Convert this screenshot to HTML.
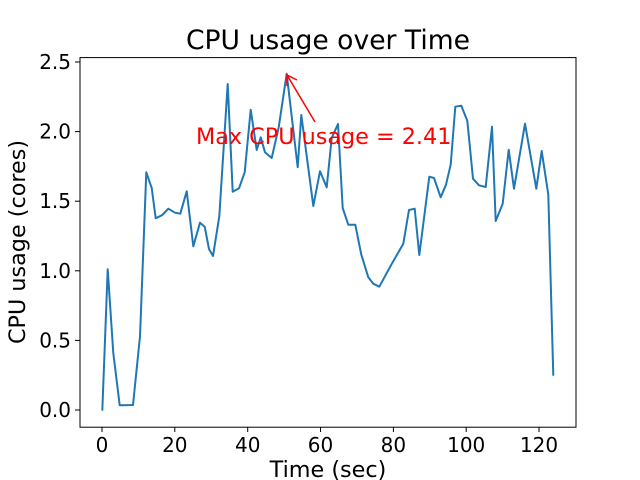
<!DOCTYPE html>
<html><head><meta charset="utf-8"><style>body{margin:0;background:#fff}svg{display:block}</style></head><body>
<svg width="640" height="480" viewBox="0 0 640 480" xmlns="http://www.w3.org/2000/svg" font-family="'DejaVu Sans','Liberation Sans',sans-serif">
<rect width="640" height="480" fill="#fff"/>
<polyline fill="none" stroke="#1f77b4" stroke-width="2" stroke-linejoin="round" points="102.3,410.7 107.7,269.3 113.3,353 119.7,405.3 133,405 140,336.3 146.3,172.3 151.7,188 155.7,218.3 162.3,215 168.3,208.7 175,212.7 180.3,213.7 186.7,191.3 193.3,246.3 200,222.7 204.7,226.7 209,249 213,256 219.3,216.3 227.7,84 232.7,191.7 239,188.3 244.7,172.3 250.7,109.7 256.7,150 260.7,137.3 265,152.3 271.7,158 278.7,127.3 286.7,73.7 297.7,167.3 301.3,115 313.3,206 320,171.3 326.7,187.3 331.7,138 338,124 342.7,208 348.3,224.7 355.3,224.7 361.3,254.7 368.3,277.3 373.3,283.7 379.3,286.7 391.3,264.7 403.3,243.7 409,210 414.7,208.7 419.3,255 429.3,176.7 434,178 440.7,197.3 446,184.7 450.7,164.7 455.3,106.7 461.3,105.7 467.3,120.7 473,178.7 479,185.3 485.7,187 492,126.7 495.7,221 502.7,203.7 508.7,149.7 514,188.7 525,123.7 536.3,188.7 541.7,151 548.3,194.7 553.3,375.7"/>
<g stroke="red" stroke-width="1.5" fill="none"><line x1="315" y1="122" x2="287" y2="75"/><polyline points="287,86 287,75 297,80"/></g>
<text x="196" y="144" font-size="22.3" fill="red">Max CPU usage = 2.41</text>
<rect x="80" y="57.6" width="496" height="369.6" fill="none" stroke="#000" stroke-width="1"/>
<g stroke="#000" stroke-width="1">
<line x1="102" y1="427.2" x2="102" y2="432"/><line x1="174.8" y1="427.2" x2="174.8" y2="432"/><line x1="247.7" y1="427.2" x2="247.7" y2="432"/><line x1="320.5" y1="427.2" x2="320.5" y2="432"/><line x1="393.4" y1="427.2" x2="393.4" y2="432"/><line x1="466.2" y1="427.2" x2="466.2" y2="432"/><line x1="539" y1="427.2" x2="539" y2="432"/>
<line x1="75" y1="410" x2="80" y2="410"/><line x1="75" y1="340.4" x2="80" y2="340.4"/><line x1="75" y1="270.8" x2="80" y2="270.8"/><line x1="75" y1="201.2" x2="80" y2="201.2"/><line x1="75" y1="131.6" x2="80" y2="131.6"/><line x1="75" y1="62" x2="80" y2="62"/>
</g>
<g font-size="20" text-anchor="middle" fill="#000">
<text x="102" y="452">0</text><text x="174.8" y="452">20</text><text x="247.7" y="452">40</text><text x="320.5" y="452">60</text><text x="393.4" y="452">80</text><text x="466.2" y="452">100</text><text x="539" y="452">120</text>
</g>
<g font-size="20" text-anchor="end" fill="#000">
<text x="71" y="417">0.0</text><text x="71" y="347.4">0.5</text><text x="71" y="277.8">1.0</text><text x="71" y="208.2">1.5</text><text x="71" y="138.6">2.0</text><text x="71" y="69">2.5</text>
</g>
<text x="328" y="477" font-size="22.3" text-anchor="middle">Time (sec)</text>
<text transform="translate(25,242) rotate(-90)" font-size="22.3" text-anchor="middle">CPU usage (cores)</text>
<text x="328" y="49" font-size="26.6" text-anchor="middle">CPU usage over Time</text>
</svg>
</body></html>
